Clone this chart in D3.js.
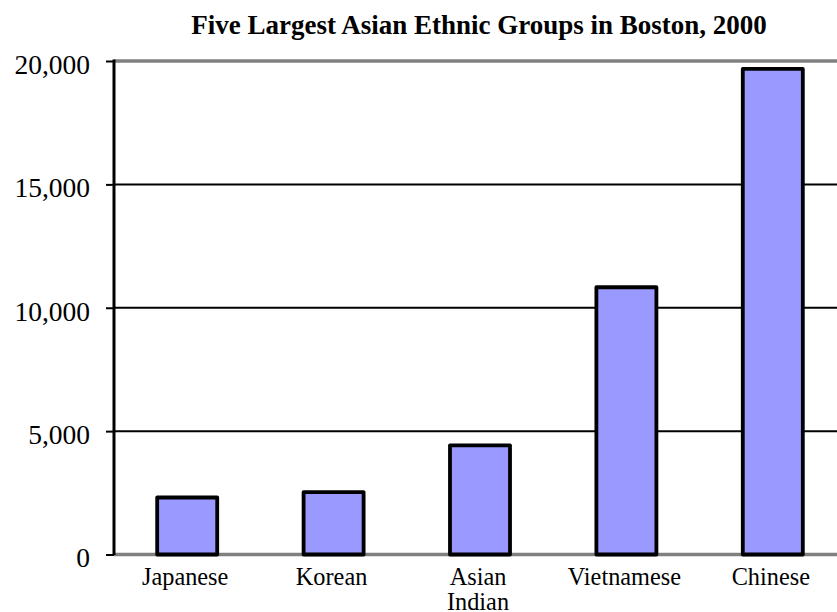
<!DOCTYPE html>
<html>
<head>
<meta charset="utf-8">
<script src="https://cdn.jsdelivr.net/npm/d3@7"></script>
<style>
  html, body { margin: 0; padding: 0; background: #fff; }
  svg { display: block; }
  text { font-family: "Liberation Serif", "Times New Roman", serif; fill: #000; }
</style>
</head>
<body>
<svg id="chart" width="837" height="612"></svg>
<script>
const title = "Five Largest Asian Ethnic Groups in Boston, 2000";
const categories = ["Japanese", "Korean", "Asian|Indian", "Vietnamese", "Chinese"];
const values = [2310, 2530, 4425, 10830, 19680];
const yTicks = [0, 5000, 10000, 15000, 20000];

const svg = d3.select("#chart");
const plotLeft = 114, plotRight = 846, plotTop = 61, plotBottom = 554.5;

const x = d3.scaleBand().domain(categories).range([plotLeft, plotRight])
  .paddingInner(0.59).paddingOuter(0.295);
const y = d3.scaleLinear().domain([0, 20000]).range([plotBottom, plotTop]);

// title
svg.append("text")
  .attr("x", 479).attr("y", 34)
  .attr("text-anchor", "middle")
  .attr("font-weight", "bold")
  .attr("font-size", 27)
  .text(title);

// gridlines
svg.append("g").selectAll("line")
  .data(yTicks)
  .join("line")
  .attr("x1", plotLeft).attr("x2", 837)
  .attr("y1", d => y(d)).attr("y2", d => y(d))
  .attr("stroke", d => (d === 0 || d === 20000) ? "#808080" : "#000")
  .attr("stroke-width", d => (d === 0 || d === 20000) ? 3.3 : 2);

// y axis
const yAxis = d3.axisLeft(y).tickValues(yTicks)
  .tickFormat(d3.format(",")).tickSize(8).tickPadding(16);
const gy = svg.append("g").attr("transform", `translate(${plotLeft},0)`).call(yAxis);
gy.select(".domain").remove();
gy.selectAll(".tick line").attr("stroke", "#000").attr("stroke-width", 2);
gy.selectAll(".tick text")
  .attr("font-family", "Liberation Serif, serif")
  .attr("font-size", 27.5)
  .attr("dy", "0.45em")
  .attr("fill", "#000");
svg.append("line")
  .attr("x1", plotLeft).attr("x2", plotLeft)
  .attr("y1", plotTop - 1.5).attr("y2", plotBottom + 0.5)
  .attr("stroke", "#000").attr("stroke-width", 3);

// bars
svg.append("g").selectAll("rect")
  .data(categories)
  .join("rect")
  .attr("x", d => x(d))
  .attr("width", x.bandwidth())
  .attr("y", (d, i) => y(values[i]))
  .attr("height", (d, i) => y(0) - y(values[i]))
  .attr("fill", "#9999FF")
  .attr("stroke", "#000")
  .attr("stroke-width", 3.8)
  .attr("stroke-linejoin", "round");

// category labels
const gx = svg.append("g");
categories.forEach(c => {
  const cx = x(c) + x.bandwidth() / 2 - 2;
  const t = gx.append("text")
    .attr("x", cx)
    .attr("y", 585)
    .attr("text-anchor", "middle")
    .attr("font-size", 24.3);
  c.split("|").forEach((line, i) => {
    t.append("tspan")
      .attr("x", cx)
      .attr("dy", i === 0 ? 0 : 25)
      .text(line);
  });
});
</script>
</body>
</html>
